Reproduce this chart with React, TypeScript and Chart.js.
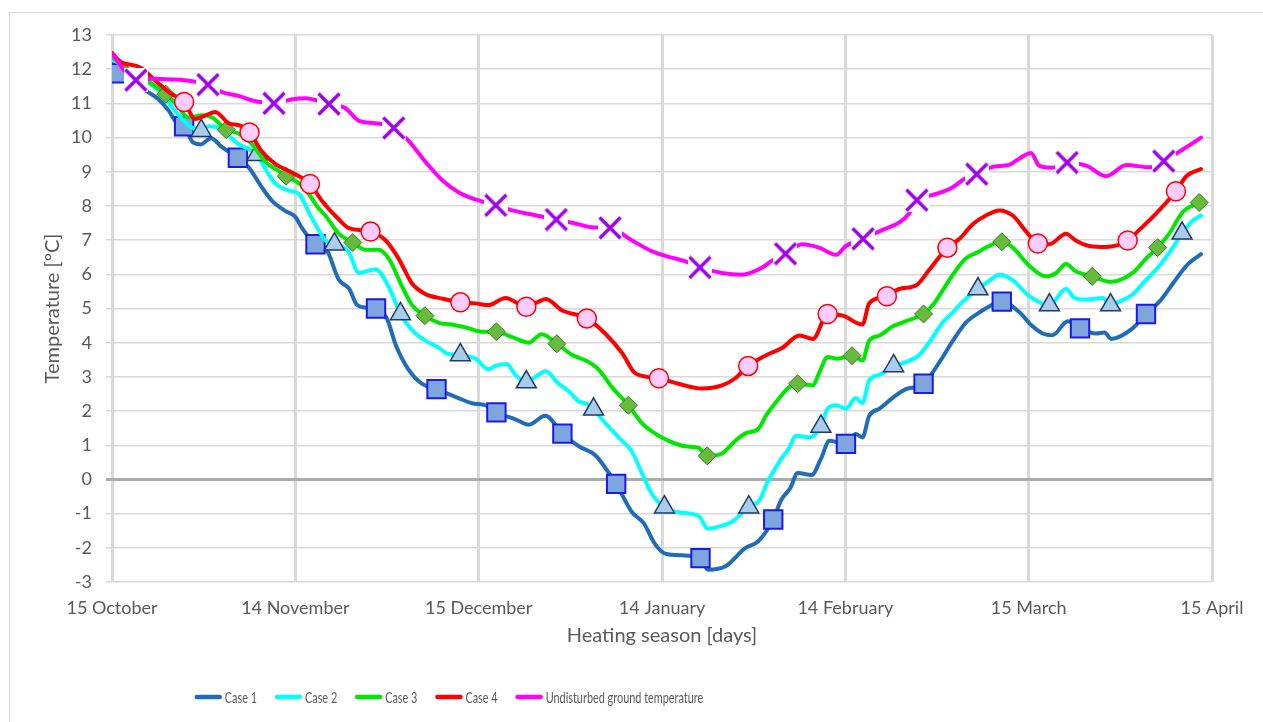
import { useEffect, useRef } from "react";
import { Chart, registerables } from "chart.js";

Chart.register(...registerables);

// Axis ticks: day of the heating season and the date shown under it
const axisDays = [0, 30, 60, 90, 120, 150, 180];
const axisDates = ["15 October", "14 November", "15 December", "14 January", "14 February", "15 March", "15 April"];

// Fluid temperature per case: [day, °C]
const case1: [number, number][] = [
  [0, 12.15], [1, 11.88], [3.5, 11.6], [5.7, 11.35], [7.6, 11.12], [9.3, 10.78], [10.5, 10.45], [11.8, 10.33],
  [13.3, 9.85], [14.5, 9.8], [16.2, 9.98], [18, 9.72], [20.6, 9.41], [22.4, 9.12], [24.5, 8.55], [26.2, 8.15],
  [28.4, 7.85], [30, 7.68], [31.1, 7.35], [33.3, 6.88], [35, 6.75], [37.1, 5.85], [38.8, 5.58], [40.1, 5.1],
  [41.5, 5.03], [43.2, 5.0], [45, 4.7], [46.4, 3.95], [48.5, 3.22], [50.7, 2.8], [53.1, 2.64], [56.7, 2.38],
  [58.9, 2.23], [61.1, 2.17], [62.9, 1.96], [66, 1.76], [68.2, 1.6], [70.9, 1.86], [73.7, 1.34], [76.4, 0.97],
  [79.1, 0.71], [81.3, 0.19], [82.5, -0.13], [85.1, -0.96], [87, -1.28], [88.9, -1.9], [90.5, -2.17], [93.3, -2.22],
  [96.3, -2.3], [97.5, -2.64], [100.4, -2.54], [103.6, -2.01], [105.8, -1.8], [108.2, -1.17], [109.5, -0.6], [111, -0.25],
  [112.2, 0.19], [114.5, 0.13], [116, 0.6], [117.4, 1.13], [120.1, 1.04], [121.7, 1.33], [122.8, 1.23], [123.9, 1.86],
  [125.6, 2.07], [127.7, 2.38], [129.9, 2.64], [132.8, 2.8], [135.4, 3.43], [137.6, 4.06], [139.8, 4.6], [141.9, 4.88],
  [145.6, 5.2], [148.5, 4.89], [150.5, 4.5], [152.3, 4.27], [153.9, 4.22], [156.4, 4.63], [158.4, 4.42], [161, 4.27],
  [162.4, 4.3], [163.5, 4.11], [167, 4.42], [169.2, 4.84], [171.4, 5.2], [173.6, 5.73], [175.8, 6.25], [178.2, 6.59],
];
const case1Marks = [1, 11.8, 20.6, 33.3, 43.2, 53.1, 62.9, 73.7, 82.5, 96.3, 108.2, 120.1, 132.8, 145.6, 158.4, 169.2];

const case2: [number, number][] = [
  [0, 12.3], [3, 11.95], [6, 11.6], [7.9, 11.33], [9.8, 10.9], [11.5, 10.54], [13, 10.3], [14.6, 10.2],
  [15.8, 10.33], [17.5, 10.28], [20.7, 9.81], [23.7, 9.5], [25.1, 9.08], [26.7, 8.66], [28.9, 8.45], [30.6, 8.35],
  [32.2, 7.82], [33.8, 7.3], [34.9, 7.0], [36.4, 6.88], [38.7, 6.67], [40.4, 6.04], [43.1, 6.15], [45.3, 5.63],
  [47.2, 4.84], [49.1, 4.37], [51.3, 4.06], [53.5, 3.85], [54.8, 3.68], [57, 3.64], [59.5, 3.53], [61.6, 3.22],
  [62.7, 3.32], [64.6, 3.38], [66, 3.06], [67.8, 2.85], [69.8, 3.06], [70.9, 3.17], [73.1, 2.8], [74.7, 2.59],
  [76.4, 2.28], [77.6, 2.22], [78.8, 2.05], [80.7, 1.65], [82.9, 1.23], [85.1, 0.81], [86.7, 0.19], [88.4, -0.44],
  [90.4, -0.81], [92.7, -0.96], [96, -1.07], [97.5, -1.44], [99.3, -1.38], [101.5, -1.23], [104.2, -0.81], [106, -0.6],
  [107.2, -0.1], [108.1, 0.19], [109.5, 0.6], [110.8, 0.92], [111.9, 1.28], [114.1, 1.23], [116, 1.55], [117.1, 2.07],
  [118.5, 2.17], [120.1, 2.07], [121.7, 2.38], [122.8, 2.23], [123.9, 2.9], [125.6, 3.06], [127.9, 3.32], [129.9, 3.43],
  [132.1, 3.64], [134.3, 4.16], [135.9, 4.58], [137.6, 4.89], [139.2, 5.2], [141.7, 5.57], [143.5, 5.8], [145.2, 5.99],
  [147.4, 5.83], [150.1, 5.36], [153.4, 5.1], [156.1, 5.57], [157.5, 5.31], [159.4, 5.26], [162.1, 5.31], [163.4, 5.1],
  [164.8, 5.2], [167, 5.41], [169.2, 5.83], [171.4, 6.25], [173.6, 6.78], [175.1, 7.2], [176.8, 7.56], [178.2, 7.72],
];
const case2Marks = [14.6, 23.7, 36.4, 47.2, 57, 67.8, 78.8, 90.4, 104.2, 116, 127.9, 141.7, 153.4, 163.4, 175.1];

const case3: [number, number][] = [
  [0, 12.35], [3, 11.95], [6, 11.64], [8.8, 11.27], [10.6, 10.96], [12.5, 10.59], [14.7, 10.65], [16.4, 10.59],
  [18.7, 10.23], [20.7, 10.12], [22.9, 9.81], [25.1, 9.29], [27.3, 9.02], [28.5, 8.87], [30.6, 8.66], [32.2, 8.35],
  [33.8, 7.93], [34.9, 7.72], [37.1, 7.19], [39.4, 6.93], [41.5, 6.72], [43.6, 6.72], [45.3, 6.46], [47.5, 5.63],
  [49.1, 5.1], [51.2, 4.79], [53.5, 4.58], [55.6, 4.53], [58.4, 4.42], [60.5, 4.32], [62.9, 4.32], [65.5, 4.16],
  [68.2, 4.0], [70.3, 4.25], [72.8, 3.97], [75.3, 3.64], [77.5, 3.48], [79.6, 3.22], [81.8, 2.7], [84.5, 2.17],
  [86.7, 1.65], [88.9, 1.34], [91.1, 1.13], [93.8, 0.97], [96, 0.92], [97.4, 0.69], [99.8, 0.76], [102, 1.13],
  [103.6, 1.34], [105.8, 1.49], [107, 1.86], [109.2, 2.38], [110.8, 2.7], [112.2, 2.8], [114.7, 2.75], [115.7, 3.11],
  [117.1, 3.58], [118.7, 3.53], [121.1, 3.62], [122.8, 3.48], [123.9, 4.06], [125.6, 4.21], [127.7, 4.47], [129.9, 4.63],
  [132.8, 4.84], [134.3, 5.1], [135.9, 5.52], [137.6, 5.99], [139.7, 6.46], [141.9, 6.67], [143.2, 6.8], [145.6, 6.95],
  [147.4, 6.78], [150.1, 6.25], [152.8, 5.94], [154.5, 6.04], [156.1, 6.3], [157.7, 6.09], [160.4, 5.94], [163.5, 5.78],
  [167, 6.04], [169.2, 6.46], [171.1, 6.78], [173, 7.19], [175.2, 7.82], [177.9, 8.1],
];
const case3Marks = [8.8, 18.7, 28.5, 39.4, 51.2, 62.9, 72.8, 84.5, 97.4, 112.2, 121.1, 132.8, 145.6, 160.4, 171.1, 177.9];

const case4: [number, number][] = [
  [0, 12.48], [1.4, 12.22], [4.6, 12.05], [7.2, 11.65], [9.5, 11.3], [11.8, 11.04], [13.6, 10.54], [15.3, 10.65],
  [16.9, 10.75], [19.1, 10.42], [21, 10.35], [22.5, 10.15], [24.5, 9.6], [26.7, 9.23], [29.5, 8.97], [32.4, 8.64],
  [34.4, 8.14], [37.1, 7.61], [38.8, 7.35], [42.3, 7.25], [44.8, 6.99], [46.9, 6.46], [49.1, 5.73], [51.3, 5.42],
  [54, 5.29], [57, 5.18], [59.5, 5.15], [61.6, 5.1], [64.4, 5.31], [67.8, 5.05], [69.8, 5.2], [71, 5.28],
  [73.6, 4.95], [77.7, 4.71], [80.7, 4.27], [83.5, 3.69], [85.6, 3.11], [89.5, 2.96], [92.7, 2.8], [96.5, 2.66],
  [99.8, 2.75], [102, 2.96], [104.1, 3.32], [106.9, 3.62], [109.7, 3.85], [112.5, 4.21], [114.7, 4.11], [117.1, 4.84],
  [119.6, 4.79], [122.8, 4.53], [123.9, 5.15], [126.8, 5.36], [128.8, 5.57], [131.6, 5.68], [133.8, 6.15], [136.7, 6.78],
  [138.7, 7.04], [140.8, 7.46], [143, 7.72], [145.2, 7.87], [147.4, 7.72], [149.6, 7.25], [151.5, 6.9], [153.4, 6.88],
  [156.1, 7.19], [157.7, 6.99], [159.9, 6.83], [162.7, 6.8], [166.2, 6.99], [168.1, 7.3], [170.8, 7.77], [174.1, 8.43],
  [175.8, 8.87], [178.2, 9.08],
];
const case4Marks = [11.8, 22.5, 32.4, 42.3, 57, 67.8, 77.7, 89.5, 104.1, 117.1, 126.8, 136.7, 151.5, 166.2, 174.1];

const ground: [number, number][] = [
  [0, 12.45], [3.9, 11.68], [6.5, 11.72], [9.8, 11.7], [13.1, 11.65], [15.7, 11.55], [18, 11.33], [20.7, 11.22],
  [23.5, 11.06], [26.5, 11.0], [29.5, 11.12], [31.6, 11.15], [35.5, 10.98], [38.2, 10.86], [40.4, 10.49], [43.1, 10.42],
  [46.1, 10.28], [48.5, 9.91], [51.3, 9.29], [54, 8.76], [56.7, 8.4], [59.5, 8.19], [62.8, 8.02], [65.5, 7.87],
  [68.7, 7.75], [72.7, 7.6], [75.5, 7.5], [79, 7.37], [81.5, 7.36], [85.1, 6.99], [88.4, 6.67], [91.1, 6.51],
  [93.5, 6.4], [96.2, 6.2], [99.8, 6.04], [103.1, 5.99], [106.4, 6.2], [108, 6.4], [110.2, 6.6], [113, 6.88],
  [115.7, 6.78], [118.5, 6.57], [120.1, 6.83], [122.9, 7.04], [126.1, 7.3], [128.8, 7.51], [130.4, 7.77], [131.7, 8.17],
  [134.3, 8.32], [137.6, 8.55], [139.7, 8.82], [141.5, 8.93], [144.3, 9.15], [146.8, 9.2], [148.5, 9.39], [150.4, 9.55],
  [151.7, 9.18], [153.9, 9.12], [156.3, 9.27], [159.4, 9.18], [162.7, 8.87], [166, 9.2], [169.8, 9.13], [172.1, 9.31],
  [175.2, 9.65], [178.2, 10.0],
];
const groundMarks = [3.9, 15.7, 26.5, 35.5, 46.1, 62.8, 72.7, 81.5, 96.2, 110.2, 122.9, 131.7, 141.5, 156.3, 172.1];

const FONT = "Lato, 'Open Sans', sans-serif";
const TEXT = "#595959";

// Purple cross marker on a white square backing
function crossMarker(): HTMLCanvasElement {
  const c = document.createElement("canvas");
  c.width = 24;
  c.height = 24;
  const g = c.getContext("2d")!;
  g.fillStyle = "#ffffff";
  g.fillRect(0, 0, 24, 24);
  g.strokeStyle = "#A000F0";
  g.lineWidth = 3.4;
  g.beginPath();
  g.moveTo(1.5, 1.5);
  g.lineTo(22.5, 22.5);
  g.moveTo(22.5, 1.5);
  g.lineTo(1.5, 22.5);
  g.stroke();
  return c;
}

function series(
  label: string,
  pts: [number, number][],
  marks: number[],
  color: string,
  style: any,
  radius: number,
  fill: string,
  edge: string,
  edgeWidth: number,
  order: number
) {
  return {
    label,
    data: pts.map(([x, y]) => ({ x, y })),
    borderColor: color,
    backgroundColor: color,
    borderWidth: 4,
    borderCapStyle: "round",
    borderJoinStyle: "round",
    cubicInterpolationMode: "monotone",
    pointRadius: pts.map(([x]) => (marks.includes(x) ? radius : 0)),
    pointHoverRadius: 0,
    pointStyle: style,
    pointBackgroundColor: fill,
    pointBorderColor: edge,
    pointBorderWidth: edgeWidth,
    order,
  };
}

// Line-sample legend under the x-axis title, with narrow lettering
const lineLegend = {
  id: "lineLegend",
  afterDraw(chart: any) {
    const { ctx } = chart;
    const squeeze = 0.68;
    const sample = 27;
    const gap = 3;
    const spacing = 18;
    ctx.save();
    ctx.font = `16px ${FONT}`;
    const items = chart.data.datasets.map((d: any) => ({ text: d.label as string, color: d.borderColor as string }));
    const widths = items.map((it: any) => ctx.measureText(it.text).width * squeeze);
    const total =
      widths.reduce((a: number, w: number) => a + sample + gap + w, 0) + spacing * (items.length - 1);
    let x = 449 - total / 2;
    const y = 697;
    items.forEach((it: any, i: number) => {
      ctx.strokeStyle = it.color;
      ctx.lineWidth = 4.5;
      ctx.lineCap = "round";
      ctx.beginPath();
      ctx.moveTo(x + 2, y);
      ctx.lineTo(x + sample - 2, y);
      ctx.stroke();
      x += sample + gap;
      ctx.save();
      ctx.translate(x, y);
      ctx.scale(squeeze, 1);
      ctx.fillStyle = TEXT;
      ctx.textBaseline = "middle";
      ctx.textAlign = "left";
      ctx.fillText(it.text, 0, 1);
      ctx.restore();
      x += widths[i] + spacing;
    });
    ctx.restore();
  },
};

export default function App() {
  const ref = useRef<HTMLCanvasElement>(null);

  useEffect(() => {
    const cross = crossMarker();
    const chart = new Chart(ref.current!, {
      type: "line",
      data: {
        datasets: [
          series("Case 1", case1, case1Marks, "#1F6CB8", "rect", 13, "#7EA6DC", "#1A1AF0", 2, 4),
          series("Case 2", case2, case2Marks, "#00FFFF", "triangle", 11.5, "#A9CCEB", "#1F3A6A", 1.5, 3),
          series("Case 3", case3, case3Marks, "#00E800", "rectRot", 9, "#66BB3C", "#3A7A25", 1, 2),
          series("Case 4", case4, case4Marks, "#FF0000", "circle", 9.5, "#FFCCFF", "#FF0000", 1.5, 1),
          series("Undisturbed ground temperature", ground, groundMarks, "#FF00FF", cross, 11, "#ffffff", "#A000F0", 0, 0),
        ] as any,
      },
      options: {
        responsive: false,
        animation: false,
        events: [],
        layout: { padding: { top: 35, right: 51, bottom: 0, left: 0 } },
        plugins: {
          legend: { display: false },
          tooltip: { enabled: false },
        },
        scales: {
          x: {
            type: "linear",
            min: 0,
            max: 180,
            afterFit: (s: any) => {
              s.height = 140;
            },
            afterBuildTicks: (s: any) => {
              s.ticks = axisDays.map((v) => ({ value: v }));
            },
            ticks: {
              autoSkip: false,
              maxRotation: 0,
              padding: 15,
              color: TEXT,
              font: { size: 18, family: FONT },
              callback: (v: any) => axisDates[axisDays.indexOf(Number(v))] ?? "",
            },
            grid: { color: "#D9D9D9", lineWidth: 3, drawTicks: false },
            border: { display: false },
            title: {
              display: true,
              text: "Heating season [days]",
              color: TEXT,
              font: { size: 20, family: FONT },
              padding: { top: 0, bottom: 74 },
            },
          },
          y: {
            min: -3,
            max: 13,
            afterFit: (s: any) => {
              s.width = 112;
            },
            ticks: {
              stepSize: 1,
              padding: 14,
              color: TEXT,
              font: { size: 18, family: FONT },
            },
            grid: {
              color: (c: any) => (c.tick && c.tick.value === 0 ? "#ABABAB" : "#D9D9D9"),
              lineWidth: (c: any) => (c.tick && c.tick.value === 0 ? 3 : 1.5),
              tickLength: 6,
              drawTicks: true,
            },
            border: { display: false },
            title: {
              display: true,
              text: "Temperature [°C]",
              color: TEXT,
              font: { size: 20, family: FONT },
              padding: { top: 41, bottom: 0 },
            },
          },
        },
      },
      plugins: [lineLegend],
    } as any);
    return () => chart.destroy();
  }, []);

  return (
    <div
      style={{
        position: "absolute",
        left: 0,
        top: 0,
        width: 1263,
        height: 722,
        background: "#ffffff",
        overflow: "hidden",
      }}
    >
      <div
        style={{
          position: "absolute",
          left: 9,
          top: 12,
          width: 1300,
          height: 800,
          border: "1px solid #D9D9D9",
          boxSizing: "border-box",
        }}
      />
      <canvas ref={ref} width={1263} height={722} style={{ position: "absolute", left: 0, top: 0 }} />
    </div>
  );
}
